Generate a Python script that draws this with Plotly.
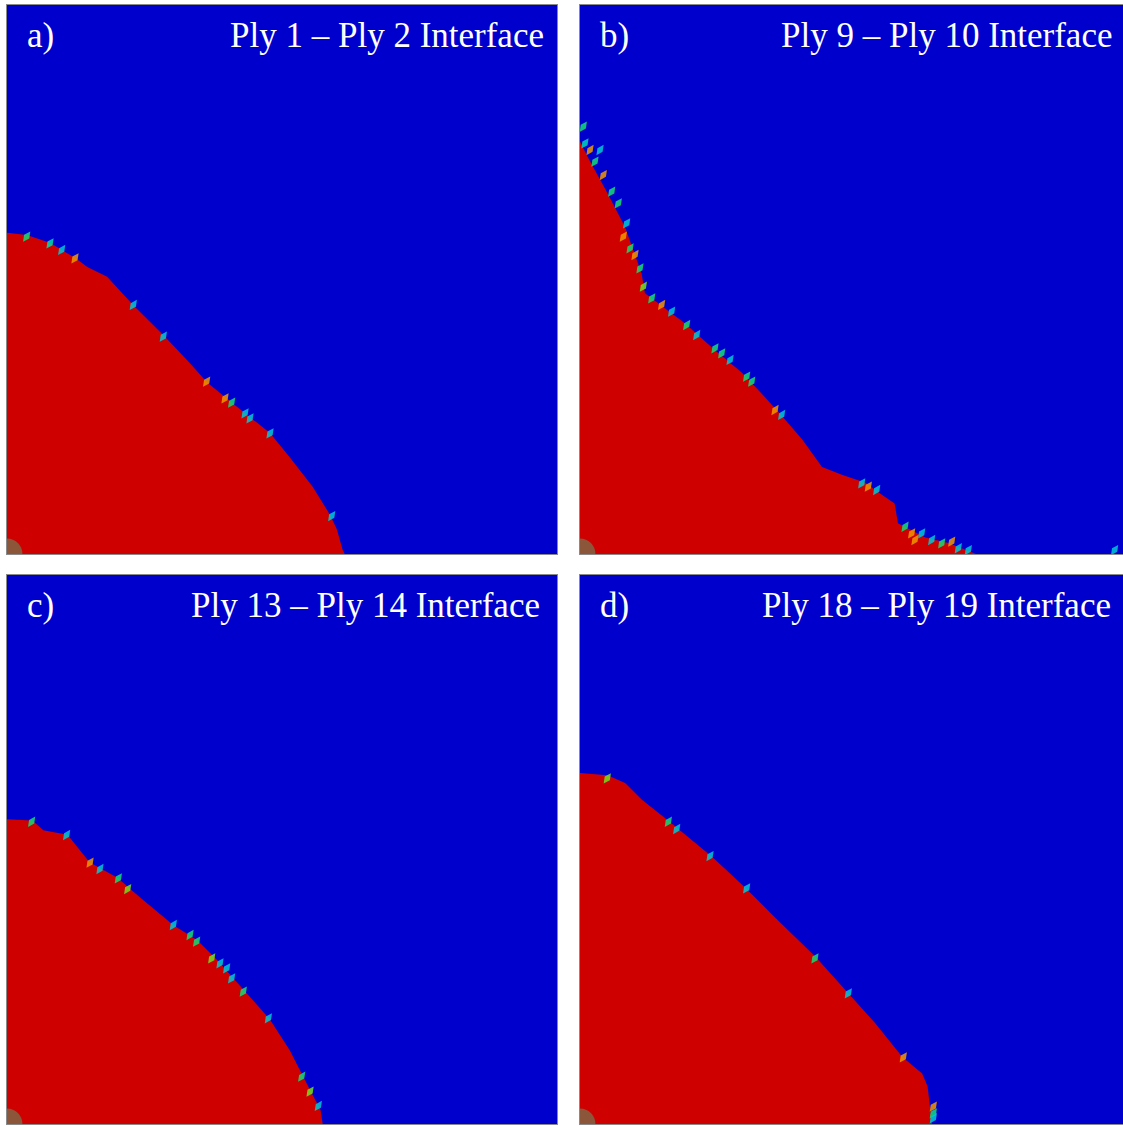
import plotly.graph_objects as go

# Delamination fronts (mm) for each interface, quarter model, origin at the hole centre
panel_tags = ["a)", "b)", "c)", "d)"]
panel_titles = [
    "Ply 1 \u2013 Ply 2 Interface",
    "Ply 9 \u2013 Ply 10 Interface",
    "Ply 13 \u2013 Ply 14 Interface",
    "Ply 18 \u2013 Ply 19 Interface",
]

front_a_x = [0, 1.8, 3.9, 6.2, 7.3, 9.1, 11.5, 14.2, 16.4, 18.2, 20.5, 22.4, 23.9, 25.7, 27.8, 29.4, 30.0, 30.5, 30.7]
front_a_y = [29.2, 29.0, 28.3, 26.9, 26.1, 25.2, 22.6, 19.9, 17.6, 15.6, 13.7, 12.2, 11.0, 8.8, 6.1, 3.5, 2.2, 0.4, 0]

front_b_x = [0, 0.7, 2.5, 4.1, 5.6, 5.9, 7.5, 9.5, 12.3, 14.7, 16.5, 18.4, 20.2, 22.0, 23.8, 25.9, 27.7, 28.6, 28.9, 31.4, 33.5, 35.6, 36.0]
front_b_y = [37.5, 36.1, 32.8, 29.7, 25.5, 23.7, 22.5, 21.0, 18.5, 16.5, 14.6, 12.5, 10.4, 7.9, 7.2, 6.5, 5.2, 4.6, 2.8, 1.5, 1.0, 0.2, 0]

front_c_x = [0, 2.3, 3.3, 5.5, 7.5, 10.0, 12.1, 15.1, 17.3, 19.1, 21.5, 23.9, 25.7, 26.9, 27.7, 28.5, 28.7]
front_c_y = [27.7, 27.6, 26.7, 26.3, 23.8, 22.4, 20.6, 18.1, 16.7, 14.9, 12.2, 9.5, 6.7, 4.3, 2.8, 1.3, 0]

front_d_x = [0, 2.5, 4.1, 5.6, 8.0, 9.8, 12.0, 15.0, 17.7, 21.4, 24.4, 26.8, 29.3, 31.1, 31.6, 31.8, 32.0]
front_d_y = [31.9, 31.7, 31.0, 29.5, 27.6, 26.1, 24.3, 21.5, 18.8, 15.2, 11.9, 9.2, 6.1, 4.6, 3.4, 1.9, 0]

# Partially damaged cohesive elements along the front (damage level 0..1)
elem_a_x = [1.79, 3.91, 4.97, 6.18, 11.48, 14.21, 18.15, 19.82, 20.42, 21.64, 22.09, 23.91, 29.52]
elem_a_y = [28.85, 28.24, 27.64, 26.88, 22.64, 19.76, 15.67, 14.15, 13.76, 12.79, 12.33, 10.97, 3.45]
elem_a_d = [0.5, 0.45, 0.35, 0.78, 0.35, 0.35, 0.78, 0.78, 0.5, 0.35, 0.35, 0.35, 0.35]

elem_b_x = [0.3, 0.45, 0.91, 1.82, 1.36, 2.12, 2.88, 3.48, 4.24, 3.94, 4.55, 5.0, 5.45, 5.76, 6.52, 7.42,
            8.33, 9.7, 10.61, 12.27, 12.88, 13.64, 15.15, 15.61, 17.73, 18.33, 25.61, 26.21, 26.97,
            29.55, 30.15, 31.06, 30.45, 31.97, 32.88, 33.79, 34.39, 35.3, 48.6]
elem_b_y = [38.85, 37.33, 36.73, 36.73, 35.67, 34.45, 32.94, 31.88, 30.06, 28.85, 27.79, 27.18, 25.97, 24.3,
            23.24, 22.64, 22.03, 20.82, 19.91, 18.7, 18.24, 17.64, 16.12, 15.67, 13.09, 12.64, 6.42, 6.12,
            5.82, 2.48, 1.88, 1.88, 1.27, 1.27, 0.97, 1.12, 0.52, 0.36, 0.36]
elem_b_d = [0.5, 0.42, 0.78, 0.35, 0.5, 0.78, 0.5, 0.5, 0.35, 0.78, 0.5, 0.78, 0.5, 0.6, 0.5, 0.78,
            0.35, 0.5, 0.35, 0.5, 0.5, 0.35, 0.5, 0.5, 0.78, 0.35, 0.35, 0.78, 0.35,
            0.5, 0.78, 0.35, 0.78, 0.35, 0.5, 0.78, 0.35, 0.35, 0.35]

elem_c_x = [2.24, 5.42, 7.55, 8.45, 10.12, 10.97, 15.12, 16.64, 17.24, 18.61, 19.36, 19.97, 20.42, 21.48, 23.76, 26.79, 27.55, 28.30]
elem_c_y = [27.48, 26.27, 23.76, 23.18, 22.33, 21.36, 18.09, 17.18, 16.58, 15.06, 14.61, 14.15, 13.24, 12.03, 9.61, 4.30, 2.94, 1.64]
elem_c_d = [0.5, 0.35, 0.78, 0.35, 0.5, 0.6, 0.35, 0.5, 0.5, 0.6, 0.35, 0.35, 0.35, 0.5, 0.35, 0.5, 0.6, 0.35]

elem_d_x = [2.48, 8.03, 8.79, 11.82, 15.15, 21.36, 24.39, 29.39, 32.12, 32.12, 32.12]
elem_d_y = [31.42, 27.48, 26.82, 24.36, 21.42, 15.06, 11.88, 6.06, 1.58, 0.97, 0.52]
elem_d_d = [0.6, 0.5, 0.35, 0.35, 0.35, 0.5, 0.35, 0.78, 0.78, 0.5, 0.35]

hole_radius = 1.4

fronts = [(front_a_x, front_a_y), (front_b_x, front_b_y), (front_c_x, front_c_y), (front_d_x, front_d_y)]
elements = [(elem_a_x, elem_a_y, elem_a_d), (elem_b_x, elem_b_y, elem_b_d),
            (elem_c_x, elem_c_y, elem_c_d), (elem_d_x, elem_d_y, elem_d_d)]

W, H = 1123, 1126
BLUE = "rgb(0,0,205)"
RED = "rgb(206,0,0)"
HOLE = "rgb(140,86,58)"
damage_scale = [
    [0.0, "rgb(0,0,205)"], [0.3, "rgb(0,190,235)"], [0.45, "rgb(0,220,170)"],
    [0.55, "rgb(40,220,60)"], [0.65, "rgb(190,225,0)"], [0.78, "rgb(240,150,0)"], [1.0, "rgb(206,0,0)"],
]

# panel boxes in pixels: left, right, top, bottom
boxes = [(7, 557, 5, 554), (580, 1123, 5, 554), (7, 557, 575, 1124), (580, 1123, 575, 1124)]
title_pad = [11, 9, 15, 10]
px_per_mm = 11.0

fig = go.Figure()
annotations = []
shapes = []
for i, ((fx, fy), (ex, ey, ed), (l, r, t, b)) in enumerate(zip(fronts, elements, boxes)):
    n = "" if i == 0 else str(i + 1)
    xa, ya = "x" + n, "y" + n
    poly_x = list(fx) + [0]
    poly_y = list(fy) + [0]
    fig.add_trace(go.Scatter(x=poly_x, y=poly_y, fill="toself", fillcolor=RED, mode="lines",
                             line=dict(width=0, color=RED), hoverinfo="skip", showlegend=False,
                             xaxis=xa, yaxis=ya))
    fig.add_trace(go.Scatter(x=ex, y=ey, mode="markers", showlegend=False, hoverinfo="skip",
                             marker=dict(symbol="diamond-tall", size=9, angle=35, opacity=0.85,
                                         color=ed, cmin=0, cmax=1, colorscale=damage_scale,
                                         line=dict(width=0)),
                             xaxis=xa, yaxis=ya))
    shapes.append(dict(type="circle", xref=xa, yref=ya, x0=-hole_radius, x1=hole_radius,
                       y0=-hole_radius, y1=hole_radius, fillcolor=HOLE, line=dict(width=0), layer="above"))
    axis_common = dict(showgrid=False, zeroline=False, showticklabels=False, ticks="",
                       showline=True, mirror=True, linecolor="#8a8a8a", linewidth=1)
    fig.layout["xaxis" + n] = dict(domain=[l / W, r / W], range=[0, (r - l) / px_per_mm],
                                   anchor=ya, **axis_common)
    fig.layout["yaxis" + n] = dict(domain=[1 - b / H, 1 - t / H], range=[0, (b - t) / px_per_mm],
                                   anchor=xa, **axis_common)
    label_y = 1 - (t + 30) / H
    annotations.append(dict(xref="paper", yref="paper", x=(l + 18) / W, y=label_y, xanchor="left",
                            yanchor="middle", text=panel_tags[i], showarrow=False,
                            font=dict(family="Liberation Serif", size=35, color="white")))
    annotations.append(dict(xref="paper", yref="paper", x=(r - title_pad[i]) / W, y=label_y,
                            xanchor="right", yanchor="middle", text=panel_titles[i], showarrow=False,
                            font=dict(family="Liberation Serif", size=35, color="white")))

fig.update_layout(width=W, height=H, margin=dict(l=0, r=0, t=0, b=0),
                  paper_bgcolor="white", plot_bgcolor=BLUE,
                  annotations=annotations, shapes=shapes)

fig.write_html("out.html", config={"displayModeBar": False})
